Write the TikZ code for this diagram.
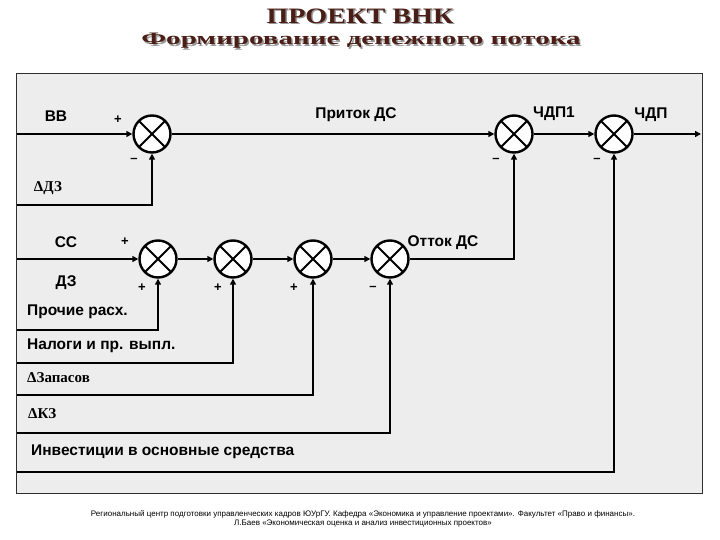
\documentclass[tikz,border=0pt]{standalone}
\usepackage{fontspec}
\setmainfont{Liberation Sans}
\newfontfamily\serifb{Liberation Serif}
\usetikzlibrary{arrows.meta}
\definecolor{framebg}{HTML}{EDEDED}
\definecolor{framebd}{HTML}{303030}
\definecolor{titlec}{HTML}{4A1E16}
\definecolor{shadowc}{HTML}{9A9A9A}
\begin{document}
\begin{tikzpicture}[x=1pt,y=-1pt,
  sumj/.style={circle,draw,line width=2.4pt,fill=white,minimum size=37pt,inner sep=0pt,
    path picture={\draw[line width=2pt] (path picture bounding box.north west)--(path picture bounding box.south east)
      (path picture bounding box.south west)--(path picture bounding box.north east);}},
  sig/.style={line width=2.4pt,-{Triangle[length=6pt,width=6pt]}},
  sigthin/.style={line width=1.6pt,-{Triangle[length=6pt,width=6pt]}},
  lbl/.style={inner sep=0pt,font=\fontsize{15.5}{18}\selectfont\bfseries},
  slbl/.style={inner sep=0pt,font=\fontsize{15}{17}\selectfont\serifb\bfseries},
  sgn/.style={inner sep=0pt,font=\fontsize{13}{15}\selectfont\bfseries},
  ttl/.style={inner sep=0pt,text=titlec},
  ttls/.style={inner sep=0pt,text=shadowc}
]
\useasboundingbox (0,0) rectangle (720,540);
\fill[white] (0,0) rectangle (720,540);
% title
\node[ttls] (t1s) at (361.5,17.5) {\serifb\bfseries\fontsize{22}{24}\selectfont\scalebox{1.28}[1]{ПРОЕКТ ВНК}};
\node[ttl] (t1) at (360,16) {\serifb\bfseries\fontsize{22}{24}\selectfont\scalebox{1.28}[1]{ПРОЕКТ ВНК}};
\node[ttls] (t2s) at (362.5,42.5) {\serifb\bfseries\fontsize{17.5}{20}\selectfont\scalebox{1.66}[1]{Формирование денежного потока}};
\node[ttl] (t2) at (361,41) {\serifb\bfseries\fontsize{17.5}{20}\selectfont\scalebox{1.66}[1]{Формирование денежного потока}};
% frame
\draw[fill=framebg,draw=framebd,line width=0.8pt] (16,73) rectangle (702,493);
% summing junctions
\node[sumj] (s1) at (152,134) {};
\node[sumj] (s2) at (514,134) {};
\node[sumj] (s3) at (614,134) {};
\node[sumj] (a) at (158,259) {};
\node[sumj] (b) at (233,259) {};
\node[sumj] (c) at (313,259) {};
\node[sumj] (d) at (390,259) {};
% free ends
\coordinate (inBB) at (17,134);
\coordinate (outR) at (701,134);
\coordinate (inDZ) at (17,205);
\coordinate (inCC) at (17,259);
\coordinate (inPR) at (17,330);
\coordinate (inNL) at (17,363);
\coordinate (inZP) at (17,395);
\coordinate (inKZ) at (17,433);
\coordinate (inIN) at (17,472);
% connectors
\draw[sig] (inBB) -- (s1);
\draw[sig] (s1) -- (s2);
\draw[sig] (s2) -- (s3);
\draw[sig] (s3) -- (outR);
\draw[sig] (inDZ) -| (s1);
\draw[sig] (inCC) -- (a);
\draw[sig] (a) -- (b);
\draw[sig] (b) -- (c);
\draw[sig] (c) -- (d);
\draw[sig] (inPR) -| (a);
\draw[sig] (inNL) -| (b);
\draw[sig] (inZP) -| (c);
\draw[sig] (inKZ) -| (d);
\draw[sig] (inIN) -| (s3);
\draw[sigthin] (d.east) -| (s2);
% labels
\node[lbl] (lBB) at (56,116) {ВВ};
\node[sgn] (p1) at (118,120) {+};
\node[sgn] (m1) at (134,160) {–};
\node[lbl] (lPr) at (356,115) {Приток ДС};
\node[lbl] (lC1) at (554,114) {ЧДП1};
\node[lbl] (lC) at (651,115) {ЧДП};
\node[sgn] (m2) at (496,160) {–};
\node[sgn] (m3) at (597,160) {–};
\node[slbl] (lDZ) at (48,188) {ΔДЗ};
\node[lbl] (lCC) at (66,242) {СС};
\node[sgn] (p2) at (125,242) {+};
\node[lbl] (lDZ2) at (66,283) {ДЗ};
\node[sgn] (p3) at (142,288) {+};
\node[sgn] (p4) at (218,288) {+};
\node[sgn] (p5) at (294,288) {+};
\node[sgn] (m4) at (373,288) {–};
\node[lbl] (lOt) at (443,243) {Отток ДС};
\node[lbl,anchor=west] (lPR) at (27,312) {Прочие расх.};
\node[lbl,anchor=west] (lNL) at (27,346) {Налоги и пр. выпл.};
\node[slbl,anchor=west] (lZP) at (27,378) {ΔЗапасов};
\node[slbl,anchor=west] (lKZ) at (28,414) {ΔКЗ};
\node[lbl,anchor=west] (lIN) at (31,452) {Инвестиции в основные средства};
% footer
\node[inner sep=0pt,font=\fontsize{8}{9.5}\selectfont,align=center] (foot) at (363,519)
 {Региональный центр подготовки управленческих кадров ЮУрГУ. Кафедра «Экономика и управление проектами». Факультет «Право и финансы».\\
  Л.Баев «Экономическая оценка и анализ инвестиционных проектов»};
\end{tikzpicture}
\end{document}
